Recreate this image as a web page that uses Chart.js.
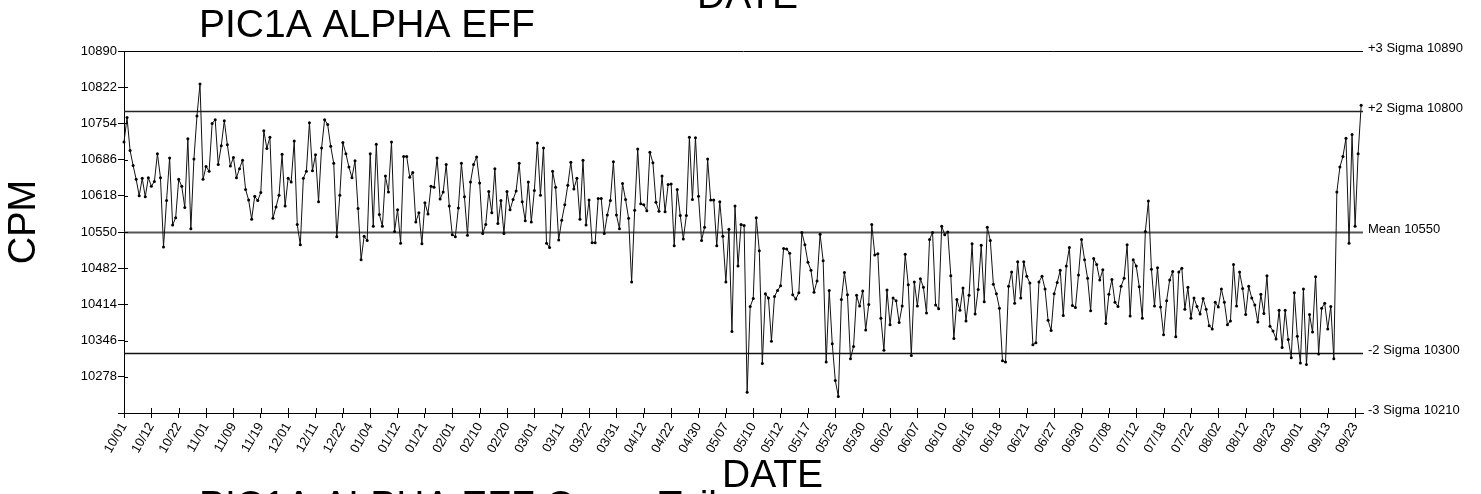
<!DOCTYPE html>
<html>
<head>
<meta charset="utf-8">
<script src="https://cdn.jsdelivr.net/npm/chart.js@4/dist/chart.umd.min.js"></script>
<style>
  html, body { margin: 0; padding: 0; background: #fff; }
</style>
</head>
<body>
<canvas id="alphaChart" width="1481" height="494"></canvas>
<script>
// tick dates, one every 9 counts
const dateTicks = ['10/01','10/12','10/22','11/01','11/09','11/19','12/01','12/11','12/22','01/04','01/12','01/21',
  '02/01','02/10','02/20','03/01','03/11','03/22','03/31','04/12','04/22','04/30','05/07','05/10','05/12','05/17',
  '05/25','05/30','06/02','06/07','06/10','06/16','06/18','06/21','06/27','06/30','07/08','07/12','07/18','07/22',
  '08/02','08/12','08/23','09/01','09/13','09/23'];
const ticksEvery = 9;

const cpmValues = [
  10719,10765,10703,10675,10649,10618,10651,10616,10652,10636,
  10645,10697,10652,10522,10609,10689,10563,10577,10649,10636,
  10596,10725,10556,10687,10768,10828,10649,10673,10664,10754,
  10761,10677,10712,10759,10714,10674,10690,10652,10669,10685,
  10630,10610,10574,10617,10609,10624,10740,10707,10728,10576,
  10597,10619,10696,10599,10651,10644,10721,10564,10526,10651,
  10664,10755,10665,10695,10607,10708,10761,10752,10711,10679,
  10541,10619,10718,10697,10672,10652,10684,10594,10498,10542,
  10534,10697,10561,10715,10583,10561,10655,10625,10719,10551,
  10592,10529,10692,10692,10653,10662,10569,10586,10528,10605,
  10584,10636,10634,10689,10612,10625,10677,10599,10545,10541,
  10595,10679,10616,10544,10644,10677,10691,10642,10547,10564,
  10626,10586,10669,10566,10609,10547,10626,10592,10611,10627,
  10679,10607,10571,10644,10569,10628,10717,10619,10708,10529,
  10521,10664,10634,10535,10572,10601,10638,10681,10631,10651,
  10574,10685,10563,10610,10530,10530,10613,10613,10547,10582,
  10609,10682,10582,10556,10641,10611,10576,10456,10591,10706,
  10603,10601,10590,10700,10680,10606,10589,10655,10588,10639,
  10640,10524,10630,10581,10537,10581,10728,10611,10727,10617,
  10534,10559,10687,10610,10610,10524,10607,10542,10456,10555,
  10363,10599,10486,10564,10562,10249,10410,10425,10577,10515,
  10303,10434,10426,10345,10429,10440,10449,10519,10518,10510,
  10432,10424,10436,10549,10526,10493,10478,10437,10458,10546,
  10496,10306,10440,10340,10271,10241,10423,10474,10432,10312,
  10335,10431,10411,10439,10366,10414,10564,10507,10509,10388,
  10328,10441,10376,10426,10421,10380,10411,10508,10451,10318,
  10456,10411,10462,10446,10398,10536,10549,10413,10406,10561,
  10545,10550,10468,10350,10423,10403,10445,10383,10431,10528,
  10396,10442,10525,10419,10559,10534,10452,10434,10407,10308,
  10306,10448,10475,10416,10494,10426,10494,10467,10454,10338,
  10342,10456,10467,10443,10384,10365,10434,10455,10478,10393,
  10486,10521,10412,10408,10469,10536,10498,10463,10402,10500,
  10489,10460,10479,10378,10433,10461,10418,10410,10448,10463,
  10526,10392,10498,10486,10447,10388,10551,10608,10480,10411,
  10483,10409,10357,10421,10460,10476,10353,10475,10482,10405,
  10446,10388,10426,10410,10396,10425,10405,10374,10368,10418,
  10409,10443,10418,10376,10383,10489,10411,10475,10444,10395,
  10448,10426,10413,10381,10433,10397,10468,10373,10364,10349,
  10403,10333,10403,10348,10314,10436,10354,10304,10443,10301,
  10395,10362,10466,10321,10407,10416,10368,10410,10312,10625,
  10672,10692,10726,10529,10733,10561,10697,10788
];

// control lines (drawn position) and their printed labels
const sigmaValues = [10890, 10777, 10550, 10323, 10210];
const sigmaLabels = ['+3 Sigma 10890', '+2 Sigma 10800', 'Mean 10550', '-2 Sigma 10300', '-3 Sigma 10210'];
const sigmaColors = ['#000', '#222', '#555', '#111', '#000'];
const sigmaWidths = [1, 1.5, 2, 1.5, 1];

const yMin = 10210, yMax = 10890, yStep = 68;

const FONT = '"Liberation Sans", Arial, sans-serif';

const decorations = {
  id: 'decorations',
  beforeDatasetsDraw(chart) {
    const { ctx, chartArea: a, scales: { x, y } } = chart;
    ctx.save();
    sigmaValues.forEach((v, i) => {
      const py = Math.round(y.getPixelForValue(v)) + 0.5;
      ctx.strokeStyle = sigmaColors[i];
      ctx.lineWidth = sigmaWidths[i];
      ctx.beginPath();
      ctx.moveTo(a.left, py);
      ctx.lineTo(a.right, py);
      ctx.stroke();
      ctx.fillStyle = '#000';
      ctx.font = '13px ' + FONT;
      ctx.textBaseline = 'alphabetic';
      ctx.fillText(sigmaLabels[i], a.right + 5, py);
    });
    // tick marks cross the axes
    ctx.strokeStyle = '#000';
    ctx.lineWidth = 1;
    x.ticks.forEach(t => {
      const px = Math.round(x.getPixelForValue(t.value)) + 0.5;
      ctx.beginPath();
      ctx.moveTo(px, a.bottom - 5);
      ctx.lineTo(px, a.bottom);
      ctx.stroke();
    });
    y.ticks.forEach(t => {
      if (t.value === yMin || t.value === yMax) return;
      const py = Math.round(y.getPixelForValue(t.value)) + 0.5;
      ctx.beginPath();
      ctx.moveTo(a.left, py);
      ctx.lineTo(a.left + 4, py);
      ctx.stroke();
    });
    ctx.restore();
  },
  afterDraw(chart) {
    const { ctx } = chart;
    ctx.save();
    ctx.fillStyle = '#000';
    ctx.font = '39px ' + FONT;
    ctx.textBaseline = 'alphabetic';
    ctx.fillText('PIC1A ALPHA EFF', 199, 37);
    ctx.fillText('DATE', 697, 8);
    ctx.fillText('DATE', 722, 487);
    ctx.fillText('PIC1A ALPHA EFF Cross Tails', 199, 518);
    ctx.translate(25, 222);
    ctx.rotate(-Math.PI / 2);
    ctx.font = '38px ' + FONT;
    ctx.textAlign = 'center';
    ctx.textBaseline = 'middle';
    ctx.fillText('CPM', 0, 0);
    ctx.restore();
  }
};

new Chart(document.getElementById('alphaChart'), {
  type: 'line',
  data: {
    datasets: [{
      data: cpmValues.map((v, i) => ({ x: i, y: v })),
      borderColor: '#111',
      borderWidth: 1,
      pointRadius: 1.5,
      pointBackgroundColor: '#000',
      pointBorderWidth: 0,
      tension: 0,
      clip: false
    }]
  },
  options: {
    responsive: false,
    animation: false,
    layout: { padding: { top: 51, right: 118, left: 0, bottom: 0 } },
    plugins: { legend: { display: false }, tooltip: { enabled: false } },
    scales: {
      x: {
        type: 'linear',
        min: 0,
        max: 407.6,
        afterBuildTicks: s => { s.ticks = dateTicks.map((d, i) => ({ value: i * ticksEvery })); },
        afterFit: s => { s.height = 81; },
        grid: { drawOnChartArea: false, tickLength: 5, color: '#000' },
        border: { color: '#000', width: 1 },
        ticks: {
          autoSkip: false,
          minRotation: 60,
          maxRotation: 60,
          padding: 2,
          color: '#000',
          font: { family: FONT, size: 13 },
          callback: (v, i) => dateTicks[i]
        }
      },
      y: {
        min: yMin,
        max: yMax,
        afterFit: s => { s.width = 124; },
        grid: { drawOnChartArea: false, tickLength: 6, color: '#000' },
        border: { color: '#000', width: 1 },
        ticks: {
          stepSize: yStep,
          padding: 1,
          color: '#000',
          font: { family: FONT, size: 13 },
          callback: v => (v === yMin ? '' : v)
        }
      }
    }
  },
  plugins: [decorations]
});
</script>
</body>
</html>
